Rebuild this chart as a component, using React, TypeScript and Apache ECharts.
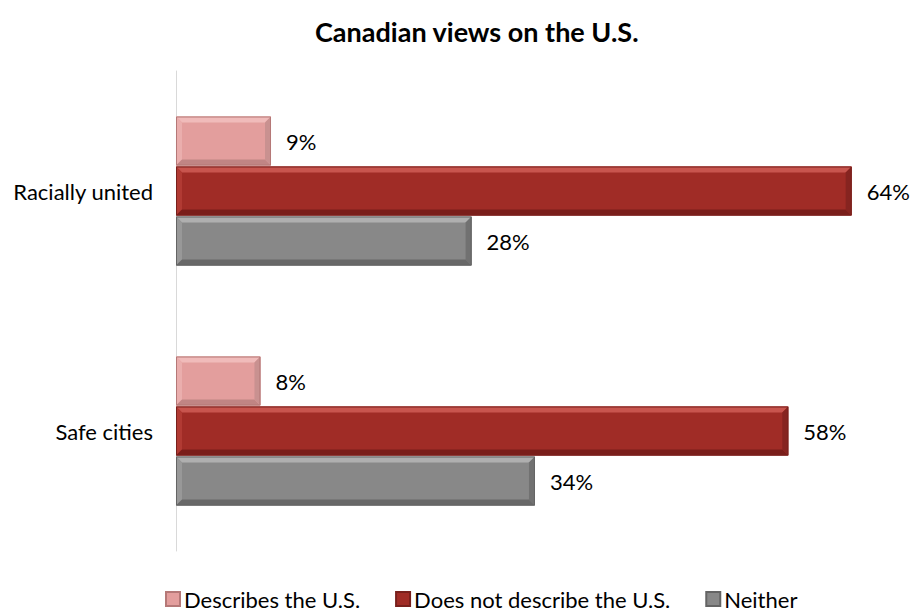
import React, { useEffect, useRef } from "react";
import * as echarts from "echarts";

const categories = ["Racially united", "Safe cities"];
const seriesNames = ["Describes the U.S.", "Does not describe the U.S.", "Neither"];
const describesValues = [9, 8];
const notDescribeValues = [64, 58];
const neitherValues = [28, 34];

const FONT = "Lato, 'Open Sans', sans-serif";

type Palette = { base: string; top: string; left: string; bottom: string; right: string; edge: string };

const palettes: Palette[] = [
  { base: "#E39E9D", top: "#F0BBBA", left: "#EAAEAD", bottom: "#C08584", right: "#C99190", edge: "#B57877" },
  { base: "#A02C26", top: "#C8554E", left: "#B13A33", bottom: "#7A1E1A", right: "#862420", edge: "#78201C" },
  { base: "#888888", top: "#AFAFAF", left: "#989898", bottom: "#686868", right: "#717171", edge: "#646464" },
];

const BAR_H = 49;
const BAR_GAP = 1;
const BEV = 6;

function makeRender(seriesIdx: number, pal: Palette) {
  return (params: any, api: any) => {
    const val = api.value(0);
    const cat = api.value(1);
    const start = api.coord([0, cat]);
    const end = api.coord([val, cat]);
    const offset = (seriesIdx - 1) * (BAR_H + BAR_GAP);
    const x0 = start[0];
    const x1 = end[0];
    const y0 = start[1] + offset - BAR_H / 2;
    const y1 = y0 + BAR_H;
    const b = Math.min(BEV, (x1 - x0) / 2);
    const poly = (pts: number[][], fill: string) => ({
      type: "polygon",
      shape: { points: pts },
      style: { fill },
      silent: true,
    });
    return {
      type: "group",
      children: [
        { type: "rect", shape: { x: x0, y: y0, width: x1 - x0, height: BAR_H }, style: { fill: pal.base } },
        poly([[x0, y0], [x1, y0], [x1 - b, y0 + b], [x0 + b, y0 + b]], pal.top),
        poly([[x0, y0], [x0 + b, y0 + b], [x0 + b, y1 - b], [x0, y1]], pal.left),
        poly([[x0, y1], [x1, y1], [x1 - b, y1 - b], [x0 + b, y1 - b]], pal.bottom),
        poly([[x1, y0], [x1, y1], [x1 - b, y1 - b], [x1 - b, y0 + b]], pal.right),
        {
          type: "rect",
          shape: { x: x0 + 0.5, y: y0 + 0.5, width: x1 - x0 - 1, height: BAR_H - 1 },
          style: { fill: "none", stroke: pal.edge, lineWidth: 1 },
          silent: true,
        },
        {
          type: "text",
          x: x1 + 15,
          y: (y0 + y1) / 2,
          style: {
            text: val + "%",
            fill: "#000",
            font: "22px " + FONT,
            textAlign: "left",
            align: "left",
            textVerticalAlign: "middle",
            verticalAlign: "middle",
          },
        },
      ],
    };
  };
}

export default function App() {
  const ref = useRef<HTMLDivElement>(null);
  useEffect(() => {
    document.body.style.margin = "0";
    const chart = echarts.init(ref.current!, undefined, { renderer: "svg" });
    const valueSets = [describesValues, notDescribeValues, neitherValues];
    chart.setOption({
      animation: false,
      title: {
        text: "Canadian views on the U.S.",
        left: 310,
        top: 13,
        textStyle: { fontFamily: FONT, fontWeight: "bold", fontSize: 27, color: "#000" },
      },
      grid: { left: 176, top: 71, width: 750, height: 480 },
      xAxis: { type: "value", min: 0, max: 70, show: false },
      yAxis: {
        type: "category",
        data: categories,
        inverse: true,
        axisLine: { lineStyle: { color: "#D9D9D9", width: 1 } },
        axisTick: { show: false },
        axisLabel: { fontFamily: FONT, fontSize: 22, color: "#000", margin: 23 },
      },
      legend: {
        top: 583,
        left: 160,
        itemWidth: 14,
        itemHeight: 14,
        itemGap: 35,
        icon: "rect",
        textStyle: { fontFamily: FONT, fontSize: 22, color: "#000", padding: [0, 0, 0, -1] },
        data: seriesNames,
      },
      series: seriesNames.map((name, si) => ({
        name,
        type: "custom",
        renderItem: makeRender(si, palettes[si]),
        encode: { x: 0, y: 1 },
        clip: false,
        itemStyle: { color: palettes[si].base, borderColor: palettes[si].edge, borderWidth: 1 },
        data: valueSets[si].map((v, i) => [v, i]),
      })),
    });
    return () => chart.dispose();
  }, []);
  return <div ref={ref} style={{ width: 915, height: 613 }} />;
}
